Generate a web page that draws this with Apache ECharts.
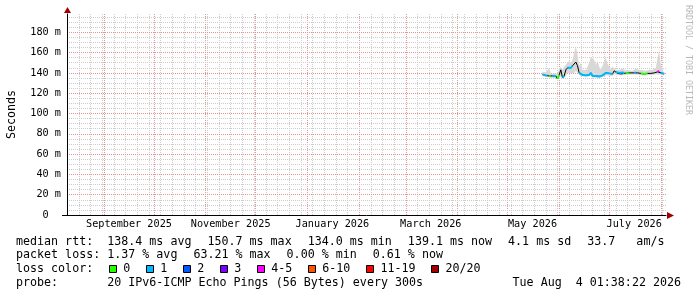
<!DOCTYPE html>
<html>
<head>
<meta charset="utf-8">
<script src="https://cdn.jsdelivr.net/npm/echarts@6/dist/echarts.min.js"></script>
<style>
  html, body { margin: 0; padding: 0; background: #fff; }
  #chart { width: 697px; height: 297px; }
</style>
</head>
<body>
<div id="chart"></div>
<script>
    var DAY = 86400000;
    var axisStart = Date.UTC(2025, 7, 9, 20, 0);
    var axisEnd = Date.UTC(2026, 7, 4, 1, 38);
    var dataStart = Date.UTC(2026, 4, 22);

    // x axis: labels in the middle of every other month, red lines on month starts
    var monthLabels = ['September 2025', 'November 2025', 'January 2026', 'March 2026', 'May 2026', 'July 2026'];
    var labelDays = [[2025, 8, 16], [2025, 10, 16], [2026, 0, 16], [2026, 2, 16], [2026, 4, 16], [2026, 6, 16]];
    var monthStartDays = [[2025, 8, 1], [2025, 9, 1], [2025, 10, 1], [2025, 11, 1], [2026, 0, 1], [2026, 1, 1],
                          [2026, 2, 1], [2026, 3, 1], [2026, 4, 1], [2026, 5, 1], [2026, 6, 1], [2026, 7, 1]];
    var firstWeekDay = [2025, 7, 10];   // a sunday

    // one value a day from 2026-05-22
    var median = [138.5, 138, 137.5, 137.5, 137, 136.5, 137, 136, 137, 134.0,
                  138, 143, 135, 137, 143, 145, 146, 145, 147, 146,
                  150.7, 147, 140, 138.5, 138, 139, 137.5, 139, 138, 140,
                  137, 138.5, 137, 138, 136.5, 138, 137.5, 139, 140, 138.5,
                  139.5, 138, 139, 142, 141, 139.5, 140, 139, 140.5, 139.5,
                  140, 140, 139.5, 140, 139.5, 140, 140.5, 140, 139.5, 139.5,
                  139.5, 139, 139.5, 139.5, 140, 139.5, 140, 140, 139.5, 141,
                  142, 140, 139, 139.1];
    var loss = [0.3, 0.4, 0.2, 0.3, 0, 0, 0.3, 0.5, 0.2, 0,
                0, 1.6, 0.4, 0.6, 2.4, 0.7, 0.5, 0.8, 0.6, 1.5,
                12.6, 1.4, 0.5, 0.3, 0.4, 0.2, 0.5, 0.3, 0.6, 0.4,
                0.3, 0.5, 0.2, 0.4, 0.3, 0.5, 0.2, 0.4, 0.6, 0.3,
                0.4, 0.2, 0.3, 1.7, 0.5, 0.3, 0.2, 0.4, 0.3, 0.2,
                0, 0, 0, 0.2, 0, 0.3, 0.2, 0, 0.3, 0,
                0, 0, 0, 0, 0.2, 0, 0.3, 0, 0.2, 4.5,
                4.2, 0.3, 0.2, 0.1];
    var smokeLow = [137, 136.5, 136, 136, 136, 135.5, 135.5, 135, 135.5, 134,
                    136, 137, 134.5, 135.5, 137, 140, 141, 140, 141, 140,
                    142, 140, 137.5, 136.5, 136.5, 137, 136, 137, 136.5, 137.5,
                    135.5, 136.5, 135.5, 136.5, 135, 136.5, 136, 137, 137.5, 136.5,
                    137.5, 136.5, 137, 139, 138.5, 138, 138.5, 137.5, 138.5, 138,
                    138.5, 138.5, 138, 138.5, 138, 138.5, 139, 138.5, 138, 138,
                    138, 137.5, 138, 138, 138.5, 138, 138.5, 138.5, 138, 138.5,
                    139, 138.5, 137.5, 137.5];
    var smokeHigh = [141, 141, 140.5, 141, 145, 139.5, 140, 139.5, 140, 139,
                     144, 146, 143, 146, 148, 150, 152, 150, 153, 160,
                     166, 158, 147, 150, 143, 143.5, 142.5, 144, 150, 156,
                     155, 153, 148, 152, 146, 143, 147, 151, 155, 149,
                     148, 144, 146, 147, 143, 144, 143, 142, 144, 143,
                     142.5, 142, 142.5, 143, 142, 143, 144, 142.5, 143, 142,
                     142.5, 142, 142, 142.5, 143, 142.5, 143, 142.5, 145, 155,
                     162, 147, 144, 143];

    var lossClasses = ['0', '1', '2', '3', '4-5', '6-10', '11-19', '20/20'];
    var lossLimits = [0, 1, 2, 3, 5, 10, 19, 20];
    var lossColors = ['#26ff00', '#00b8ff', '#0059ff', '#7e00ff', '#ff00ff', '#ff5500', '#ff0000', '#a10000'];

    var rttStats = ['138.4 ms avg', '150.7 ms max', '134.0 ms min', '139.1 ms now', '4.1 ms sd', '33.7   am/s'];
    var lossStats = ['1.37 % avg', '63.21 % max', '0.00 % min', '0.61 % now'];
    var probeText = '20 IPv6-ICMP Echo Pings (56 Bytes) every 300s';
    var stampText = 'Tue Aug  4 01:38:22 2026';

    var MONO = '"DejaVu Sans Mono"';
    var legendFont = '11.67px ' + MONO;
    var RED_GRID = '#e89494';
    var GRAY_GRID = '#cdcdcd';
    var PLOT_TOP = 14, PLOT_BOTTOM = 215;

    function utc(d) { return Date.UTC(d[0], d[1], d[2]); }
    var labelTs = labelDays.map(utc);
    var monthTs = monthStartDays.map(utc);
    var weekTs = [];
    for (var w = utc(firstWeekDay); w < axisEnd; w += 7 * DAY) weekTs.push(w);

    function lossClass(l) {
        if (l === 0) return 0;
        for (var k = 1; k < lossLimits.length; k++) {
            if (l <= lossLimits[k]) return k;
        }
        return lossLimits.length - 1;
    }

    var times = median.map(function (v, i) { return dataStart + i * DAY; });

    var ctx = document.createElement('canvas').getContext('2d');
    ctx.font = legendFont;
    function tw(s) { return ctx.measureText(s).width; }

    function colorList(n, c) {
        var a = [];
        for (var i = 0; i < n; i++) a.push(c);
        a.push('rgba(0,0,0,0)');
        return a;
    }

    function makeSeries() {
        // series live on the hidden time axis (index 1), so stacking goes on y
        var series = [
            {
                type: 'line', stack: 'smoke', symbol: 'none', silent: true, xAxisIndex: 1, yAxisIndex: 1,
                lineStyle: {width: 0, opacity: 0},
                data: times.map(function (t, i) { return [t, smokeLow[i]]; })
            },
            {
                type: 'line', stack: 'smoke', symbol: 'none', silent: true, xAxisIndex: 1, yAxisIndex: 1,
                lineStyle: {width: 0, opacity: 0},
                areaStyle: {color: '#d8d8d8', opacity: 1},
                data: times.map(function (t, i) { return [t, smokeHigh[i] - smokeLow[i]]; })
            },
            {
                name: 'median', type: 'line', symbol: 'none', xAxisIndex: 1, yAxisIndex: 1,
                lineStyle: {color: '#000', width: 1},
                data: times.map(function (t, i) { return [t, median[i]]; })
            }
        ];
        lossClasses.forEach(function (name, k) {
            series.push({
                name: name, type: 'line', symbol: 'none', connectNulls: false, xAxisIndex: 1, yAxisIndex: 1,
                lineStyle: {color: lossColors[k], width: 2},
                data: times.map(function (t, i) {
                    return [t, lossClass(loss[i]) === k ? median[i] : null];
                })
            });
        });
        return series;
    }

    function makeGraphic(extra) {
        var graphic = [];
        function addText(s, x, y, align) {
            graphic.push({
                type: 'text', x: x, y: y, silent: true,
                style: {text: s, font: legendFont, fill: '#000', align: align || 'left', verticalAlign: 'middle'}
            });
        }
        // legend rows, laid out like rrdtool: elements separated by a fixed gap
        function addRow(parts, y) {
            var x = 16;
            parts.forEach(function (p) {
                addText(p, x, y);
                x += tw(p) + 16;
            });
        }
        addRow(['median rtt:  ' + rttStats[0]].concat(rttStats.slice(1)), 241.5);
        addRow(['packet loss: ' + lossStats[0]].concat(lossStats.slice(1)), 255);
        addText('loss color:', 16, 269);
        var lx = 16 + tw('loss color:') + 15.5;
        lossClasses.forEach(function (name, k) {
            graphic.push({
                type: 'rect', silent: true,
                shape: {x: Math.round(lx) + 0.5, y: 265.5, width: 7, height: 7},
                style: {fill: lossColors[k], stroke: '#000', lineWidth: 1}
            });
            addText(name, lx + 14.5, 269);
            lx += 14.5 + tw(name) + 15.5;
        });
        addText('probe:       ' + probeText, 16, 282.7);
        addText(stampText, 681, 282.7, 'right');

        // axis arrows and the small extension of the x axis line
        graphic.push({type: 'polygon', silent: true, z: 10, shape: {points: [[64, 13], [71, 13], [67.5, 7]]}, style: {fill: '#a00000'}});
        graphic.push({type: 'polygon', silent: true, z: 10, shape: {points: [[667, 212], [667, 219], [674, 215.5]]}, style: {fill: '#a00000'}});
        graphic.push({type: 'line', silent: true, shape: {x1: 62, y1: 215.5, x2: 67, y2: 215.5}, style: {stroke: '#000', lineWidth: 1}});
        graphic.push({
            type: 'text', x: 688, y: 60, rotation: -Math.PI / 2, silent: true,
            style: {text: 'RRDTOOL / TOBI OETIKER', font: '8.3px ' + MONO, fill: '#b8b8b8', align: 'center', verticalAlign: 'middle'}
        });
        return graphic.concat(extra);
    }

    function makeOption(extra) {
        return {
            animation: false,
            backgroundColor: '#fff',
            grid: {left: 67, right: 31, top: PLOT_TOP, bottom: 297 - PLOT_BOTTOM, containLabel: false, outerBoundsMode: 'none'},
            xAxis: [
                {
                    type: 'value', min: axisStart, max: axisEnd, position: 'bottom',
                    axisLine: {show: true, onZero: false, lineStyle: {color: '#000', width: 1}},
                    axisTick: {show: false},
                    axisLabel: {
                        customValues: labelTs, margin: 4, color: '#000',
                        fontFamily: MONO, fontSize: 10.2,
                        formatter: function (v) {
                            var i = labelTs.indexOf(v);
                            return i < 0 ? '' : monthLabels[i];
                        }
                    },
                    splitLine: {show: false}
                },
                {
                    type: 'time', min: axisStart, max: axisEnd, position: 'bottom', show: false
                }
            ],
            yAxis: [
                {
                    type: 'value', min: 0, max: 198, interval: 5, position: 'left',
                    axisLine: {show: false}, axisTick: {show: false}, axisLabel: {show: false},
                    splitLine: {show: true, lineStyle: {color: colorList(40, GRAY_GRID), width: 1, type: [1, 1]}}
                },
                {
                    type: 'value', min: 0, max: 198, interval: 20, position: 'left',
                    name: 'Seconds', nameLocation: 'middle', nameGap: 49, nameRotate: 90,
                    nameTextStyle: {fontFamily: MONO, fontSize: 11.67, color: '#000'},
                    axisLine: {show: true, onZero: false, lineStyle: {color: '#000', width: 1}},
                    axisTick: {show: false},
                    axisLabel: {
                        margin: 6, color: '#000', fontFamily: MONO, fontSize: 10.2,
                        formatter: function (v) {
                            if (v === 0) return '0  ';
                            return (v % 20 === 0) ? v + ' m' : '';
                        }
                    },
                    splitLine: {show: true, lineStyle: {color: colorList(10, RED_GRID), width: 1, type: [1, 1]}}
                }
            ],
            graphic: makeGraphic(extra),
            series: makeSeries()
        };
    }

    var myChart = echarts.init(document.getElementById('chart'));
    myChart.setOption(makeOption([]));

    // vertical grid: weekly gray lines and red month lines, snapped to whole pixels
    function vLines(list, color) {
        return list.map(function (ts) {
            var x = Math.floor(myChart.convertToPixel({xAxisIndex: 0}, ts) + 0.3) + 0.5;
            return {
                type: 'line', silent: true, z: -1,
                shape: {x1: x, y1: PLOT_TOP, x2: x, y2: PLOT_BOTTOM},
                style: {stroke: color, lineWidth: 1, lineDash: [1, 1]}
            };
        });
    }
    var gridLines = vLines(weekTs, GRAY_GRID).concat(vLines(monthTs, RED_GRID));
    myChart.setOption(makeOption(gridLines), true);
</script>
</body>
</html>
